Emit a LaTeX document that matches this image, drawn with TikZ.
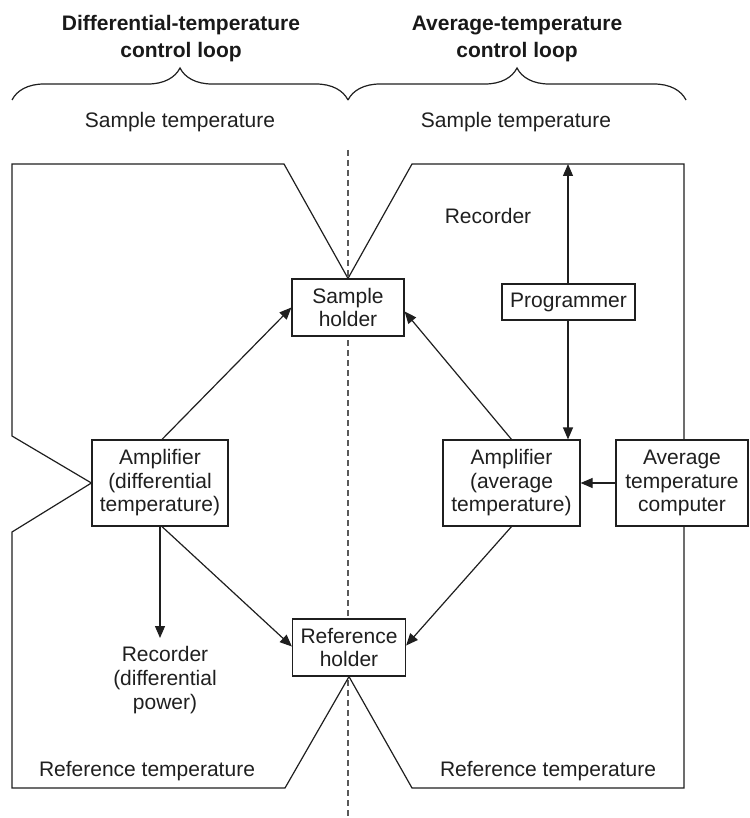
\documentclass[tikz,border=0pt]{standalone}
\usepackage{fontspec}
\setmainfont{Liberation Sans}
\usetikzlibrary{arrows.meta,decorations.pathreplacing,calc}
\begin{document}
\begin{tikzpicture}[x=1pt,y=-1pt,
  ink/.style={draw=black!88, line width=1.2pt},
  blk/.style={ink, fill=white, inner sep=0pt, align=center, text=black!88,
    font=\fontsize{21}{23.5}\selectfont},
  lbl/.style={inner sep=0pt, align=center, text=black!88,
    font=\fontsize{21}{24}\selectfont},
  ttl/.style={inner sep=0pt, anchor=base, text=black!90,
    font=\bfseries\fontsize{21}{26}\selectfont},
  arr/.style={ink, -{Triangle[length=12pt,width=10pt]}},
  wire/.style={ink, line join=miter},
  brc/.style={ink, decorate, decoration={brace, amplitude=32pt}},
]
\useasboundingbox (0,0) rectangle (749,818);

% axis of symmetry between the two holders
\draw[draw=black!65, line width=1.2pt, dash pattern=on 6pt off 4pt] (348,150) -- (348,818);

% loop headings
\node[ttl] (t1a) at (181,31) {Differential-temperature};
\node[ttl] (t1b) at (181,58) {control loop};
\node[ttl] (t2a) at (517,31) {Average-temperature};
\node[ttl] (t2b) at (517,58) {control loop};
\draw[brc] (12,100) -- (348,100);
\draw[brc] (348,100) -- (686,100);

% blocks
\node[blk, minimum width=112pt, minimum height=57pt] (sh) at (348,307.5) {Sample\\holder};
\node[blk, minimum width=113pt, minimum height=57pt] (rh) at (349,647.5) {Reference\\holder};
\node[blk, minimum width=136pt, minimum height=86pt] (ad) at (160,483) {Amplifier\\(differential\\temperature)};
\node[blk, minimum width=137pt, minimum height=86pt] (aa) at (511.5,483) {Amplifier\\(average\\temperature)};
\node[blk, minimum width=133pt, minimum height=36pt] (pg) at (568.5,302) {Programmer};

% corner points of the temperature loops
\coordinate (lt1) at (284,164);
\coordinate (lt2) at (12,164);
\coordinate (lt3) at (12,436);
\coordinate (lt4) at (12,532);
\coordinate (lt5) at (12,788);
\coordinate (lt6) at (285,788);
\coordinate (rt1) at (412,164);
\coordinate (rt2) at (684,164);
\coordinate (rt3) at (684,788);
\coordinate (rt4) at (412,788);
\coordinate (rectop) at (568,164);
\coordinate (recdp) at (160,638);

% temperature loops
\draw[wire] (sh.north) -- (lt1) -- (lt2) -- (lt3) -- (ad.west) -- (lt4) -- (lt5) -- (lt6) -- (rh.south);
\draw[wire] (sh.north) -- (rt1) -- (rt2) -- (rt3) -- (rt4) -- (rh.south);

% computer block sits on the right-hand loop line
\node[blk, minimum width=132pt, minimum height=86pt] (atc) at (682,483) {Average\\temperature\\computer};

% labels
\node[lbl, anchor=base] (st1) at (180,128) {Sample temperature};
\node[lbl, anchor=base] (st2) at (516,128) {Sample temperature};
\node[lbl, anchor=base] (rt1l) at (147,776) {Reference temperature};
\node[lbl, anchor=base] (rt2l) at (548,776) {Reference temperature};
\node[lbl, anchor=base] (rec1) at (488,223) {Recorder};
\node[lbl] (rec2) at (165,680) {Recorder\\(differential\\power)};

% signal arrows
\draw[arr] ($(ad.north)+(2,0)$) -- (sh.west);
\draw[arr] (aa.north) -- ($(sh.east)+(0,4)$);
\draw[arr] ($(ad.south)+(2,0)$) -- ($(rh.west)+(0,-1)$);
\draw[arr] (aa.south) -- ($(rh.east)+(0,-2)$);
\draw[arr] (ad.south) -- (recdp);
\draw[arr] (pg.north -| rectop) -- (rectop);
\draw[arr] (pg.south -| rectop) -- (aa.north -| rectop);
\draw[arr] (atc.west) -- (aa.east);
\end{tikzpicture}
\end{document}
